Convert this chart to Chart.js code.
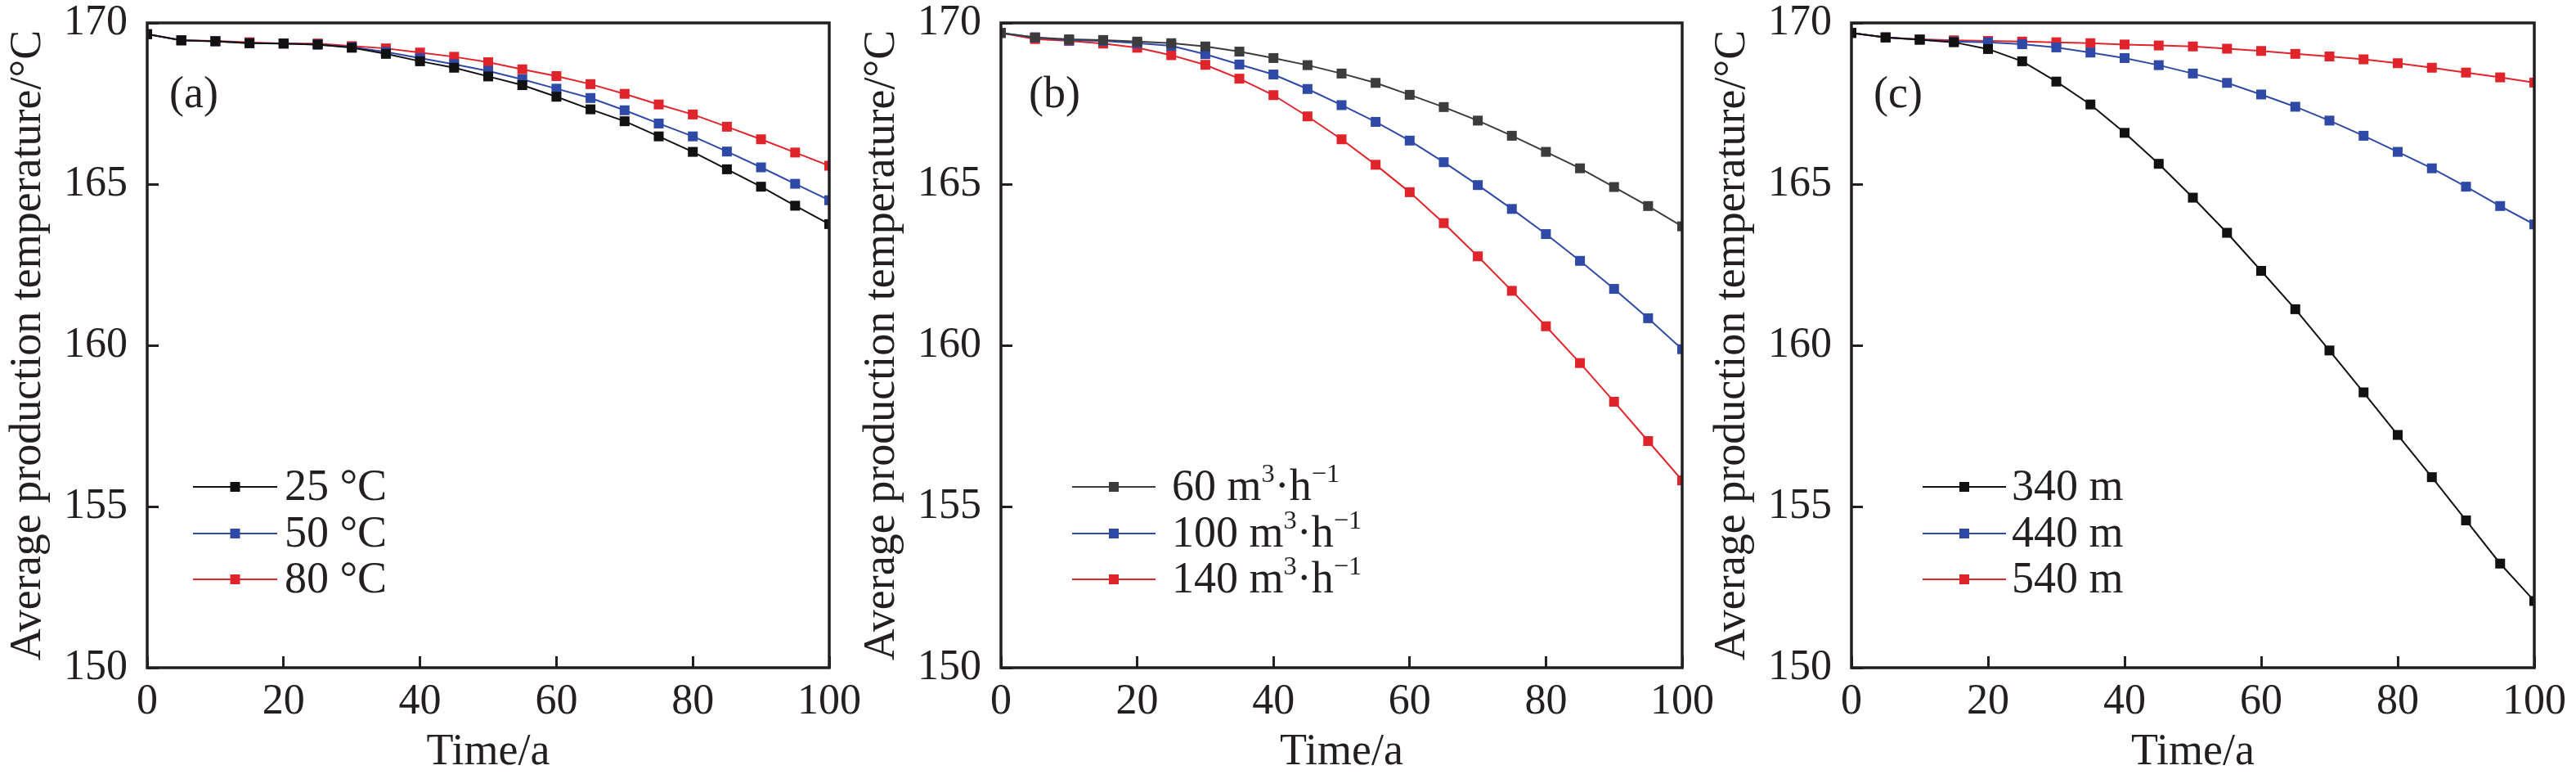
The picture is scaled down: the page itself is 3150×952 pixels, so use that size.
<!DOCTYPE html>
<html>
<head>
<meta charset="utf-8">
<style>
  html, body { margin: 0; padding: 0; background: #fff; }
  #wrap { position: relative; width: 3150px; height: 952px; overflow: hidden; }
  #wrap canvas { position: absolute; top: 0; }
</style>
</head>
<body>
<div id="wrap">
  <canvas id="chart_a" width="1060" height="952" style="left:0px"></canvas>
  <canvas id="chart_b" width="1059" height="952" style="left:1044px"></canvas>
  <canvas id="chart_c" width="1061" height="952" style="left:2084px"></canvas>
</div>
<script src="https://cdn.jsdelivr.net/npm/chart.js"></script>
<script>
// time axis (years) and tick values
const years  = [0, 5, 10, 15, 20, 25, 30, 35, 40, 45, 50, 55, 60, 65, 70, 75, 80, 85, 90, 95, 100];
const xTicks = [0, 20, 40, 60, 80, 100];
const yTicks = [150, 155, 160, 165, 170];

// (a) injection temperature
const labelsA = ['25 °C', '50 °C', '80 °C'];
const tempA25 = [169.65, 169.46, 169.43, 169.37, 169.36, 169.33, 169.23, 169.04, 168.81, 168.61, 168.34, 168.07, 167.71, 167.32, 166.95, 166.48, 166.00, 165.46, 164.92, 164.33, 163.76];
const tempA50 = [169.65, 169.46, 169.43, 169.37, 169.36, 169.33, 169.25, 169.10, 168.91, 168.72, 168.51, 168.25, 167.96, 167.67, 167.29, 166.88, 166.48, 166.01, 165.52, 165.01, 164.50];
const tempA80 = [169.65, 169.46, 169.44, 169.40, 169.36, 169.36, 169.28, 169.21, 169.08, 168.95, 168.78, 168.56, 168.35, 168.10, 167.80, 167.47, 167.16, 166.78, 166.39, 165.98, 165.57];

// (b) flow rate
const labelsB = ['60 m³·h⁻¹', '100 m³·h⁻¹', '140 m³·h⁻¹'];
const flowB60  = [169.69, 169.55, 169.49, 169.47, 169.42, 169.37, 169.27, 169.11, 168.91, 168.69, 168.43, 168.14, 167.77, 167.39, 166.97, 166.50, 166.00, 165.49, 164.91, 164.32, 163.69];
const flowB100 = [169.69, 169.55, 169.46, 169.44, 169.37, 169.29, 169.03, 168.71, 168.40, 167.95, 167.45, 166.93, 166.35, 165.68, 164.97, 164.23, 163.45, 162.62, 161.75, 160.84, 159.88];
const flowB140 = [169.69, 169.50, 169.44, 169.36, 169.23, 169.00, 168.70, 168.27, 167.76, 167.10, 166.39, 165.60, 164.75, 163.79, 162.76, 161.69, 160.59, 159.45, 158.25, 157.03, 155.81];

// (c) well spacing
const labelsC = ['340 m', '440 m', '540 m'];
const depthC340 = [169.69, 169.55, 169.48, 169.40, 169.19, 168.81, 168.18, 167.47, 166.59, 165.63, 164.58, 163.49, 162.31, 161.12, 159.84, 158.54, 157.22, 155.91, 154.57, 153.23, 152.07];
const depthC440 = [169.69, 169.55, 169.48, 169.42, 169.40, 169.34, 169.24, 169.08, 168.91, 168.69, 168.43, 168.14, 167.78, 167.40, 166.97, 166.50, 166.00, 165.49, 164.92, 164.32, 163.75];
const depthC540 = [169.69, 169.55, 169.49, 169.46, 169.44, 169.42, 169.40, 169.37, 169.33, 169.30, 169.27, 169.20, 169.13, 169.04, 168.96, 168.87, 168.75, 168.61, 168.46, 168.31, 168.15];

const FONT = "'Liberation Serif', 'Times New Roman', serif";
const INK = '#231f20';
const RED = '#e0242b';
const BLUE = '#2f4aa6';

// box round the plot area, drawn over the curves
const framePlugin = {
    id: 'frame',
    afterDatasetsDraw(chart) {
        const { ctx, chartArea: a } = chart;
        ctx.save();
        ctx.strokeStyle = INK;
        ctx.lineWidth = 3.5;
        ctx.strokeRect(a.left, a.top, a.right - a.left, a.bottom - a.top);
        ctx.restore();
    }
};

// text with ³ ⁻ ¹ drawn as raised small figures
const SUP = { '³': '3', '⁻': '−', '¹': '1' };
function drawRich(ctx, text, x, y, size) {
    for (const ch of text) {
        if (SUP[ch]) {
            ctx.font = (size * 0.6) + 'px ' + FONT;
            ctx.fillText(SUP[ch], x, y - size * 0.4);
            x += ctx.measureText(SUP[ch]).width;
        } else {
            ctx.font = size + 'px ' + FONT;
            ctx.fillText(ch, x, y);
            x += ctx.measureText(ch).width;
        }
    }
}

// legend inside the plot + panel tag
const insideLegend = {
    id: 'insideLegend',
    afterDraw(chart, args, opts) {
        const { ctx, chartArea: a } = chart;
        ctx.save();
        ctx.textBaseline = 'alphabetic';
        ctx.textAlign = 'left';
        chart.data.datasets.forEach((ds, i) => {
            const y = a.bottom - opts.rows[i];
            ctx.strokeStyle = ds.borderColor;
            ctx.lineWidth = 2;
            ctx.beginPath();
            ctx.moveTo(a.left + opts.lineFrom, y);
            ctx.lineTo(a.left + opts.lineTo, y);
            ctx.stroke();
            const mx = a.left + (opts.lineFrom + opts.lineTo) / 2;
            ctx.fillStyle = ds.borderColor;
            ctx.fillRect(mx - 6, y - 6, 12, 12);
            ctx.fillStyle = INK;
            drawRich(ctx, ds.label, a.left + opts.textAt, y + 16, 54);
        });
        ctx.font = '54px ' + FONT;
        ctx.textBaseline = 'middle';
        ctx.fillStyle = INK;
        ctx.fillText(opts.tag, a.left + opts.tagAt, a.top + 89);
        ctx.restore();
    }
};

function makeSet(label, values, color) {
    return {
        label: label,
        data: years.map((t, i) => ({ x: t, y: values[i] })),
        borderColor: color,
        backgroundColor: color,
        borderWidth: 2,
        pointStyle: 'rect',
        pointRadius: 8.5,
        pointBorderWidth: 0,
        pointBackgroundColor: color,
        tension: 0,
        clip: 0
    };
}

function makeChart(id, sets, legendOpts) {
    new Chart(document.getElementById(id), {
        type: 'line',
        data: { datasets: sets },
        plugins: [framePlugin, insideLegend],
        options: {
            responsive: false,
            animation: false,
            devicePixelRatio: 1,
            layout: { padding: { top: 28, right: 46, bottom: 0, left: 0 } },
            plugins: {
                legend: { display: false },
                tooltip: { enabled: false },
                insideLegend: legendOpts
            },
            scales: {
                x: {
                    type: 'linear',
                    min: 0,
                    max: 100,
                    afterBuildTicks: s => { s.ticks = xTicks.map(v => ({ value: v })); },
                    afterFit: s => { s.height = 136; s.paddingLeft = 0; s.paddingRight = 0; },
                    border: { display: false },
                    grid: { drawOnChartArea: false, drawTicks: true, tickLength: -14, lineWidth: 3, color: INK },
                    ticks: { color: INK, padding: 30, maxRotation: 0, font: { family: FONT, size: 52, lineHeight: 1 } },
                    title: { display: true, text: 'Time/a', color: INK, padding: { top: 0, bottom: 0 }, font: { family: FONT, size: 54 } }
                },
                y: {
                    min: 150,
                    max: 170,
                    afterBuildTicks: s => { s.ticks = yTicks.map(v => ({ value: v })); },
                    afterFit: s => { s.width = 180; s.paddingTop = 0; s.paddingBottom = 0; },
                    border: { display: false },
                    grid: { drawOnChartArea: false, drawTicks: true, tickLength: -14, lineWidth: 3, color: INK },
                    ticks: { color: INK, padding: 38, font: { family: FONT, size: 52, lineHeight: 1 } },
                    title: { display: true, text: 'Average production temperature/°C', color: INK, padding: { top: 2, bottom: 0 }, font: { family: FONT, size: 54 } }
                }
            }
        }
    });
}

makeChart('chart_a', [
    makeSet(labelsA[0], tempA25, '#111111'),
    makeSet(labelsA[1], tempA50, BLUE),
    makeSet(labelsA[2], tempA80, RED)
], { rows: [221, 164, 108], lineFrom: 56, lineTo: 159, textAt: 168, tag: '(a)', tagAt: 27 });

makeChart('chart_b', [
    makeSet(labelsB[0], flowB60, '#3c3c3c'),
    makeSet(labelsB[1], flowB100, BLUE),
    makeSet(labelsB[2], flowB140, RED)
], { rows: [221, 164, 108], lineFrom: 87, lineTo: 189, textAt: 209, tag: '(b)', tagAt: 34 });

makeChart('chart_c', [
    makeSet(labelsC[0], depthC340, '#111111'),
    makeSet(labelsC[1], depthC440, BLUE),
    makeSet(labelsC[2], depthC540, RED)
], { rows: [221, 164, 108], lineFrom: 87, lineTo: 189, textAt: 196, tag: '(c)', tagAt: 27 });
</script>
</body>
</html>
